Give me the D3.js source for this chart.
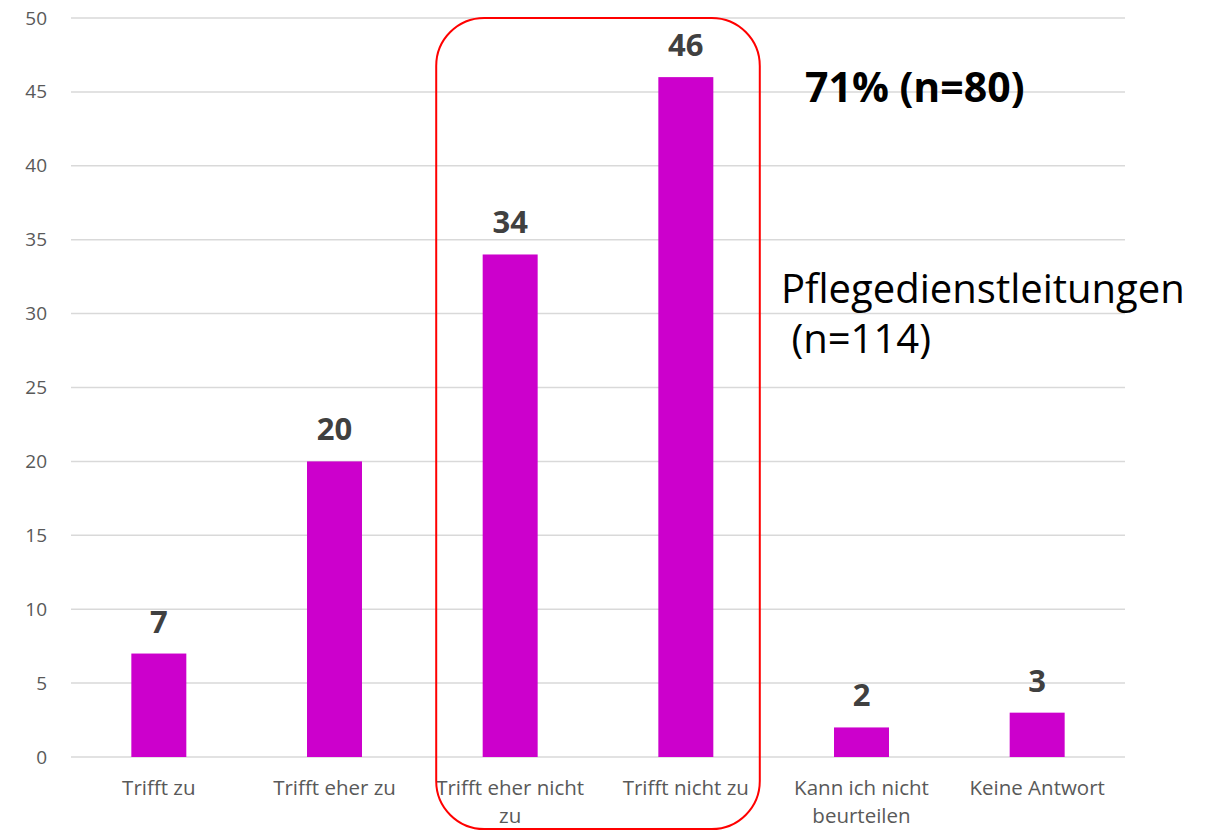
<!DOCTYPE html>
<html>
<head>
<meta charset="utf-8">
<script src="https://cdn.jsdelivr.net/npm/d3@7"></script>
<style>
  html, body { margin: 0; padding: 0; background: #fff; }
  svg { display: block; font-family: "Open Sans", sans-serif; }
</style>
</head>
<body>
<svg id="chart" width="1221" height="831"></svg>
<script>
// Antworten (Anzahl), Pflegedienstleitungen
const categories = [
  ["Trifft zu"],
  ["Trifft eher zu"],
  ["Trifft eher nicht", "zu"],
  ["Trifft nicht zu"],
  ["Kann ich nicht", "beurteilen"],
  ["Keine Antwort"]
];
const values = [7, 20, 34, 46, 2, 3];
const yTicks = [0, 5, 10, 15, 20, 25, 30, 35, 40, 45, 50];
const highlight = [2, 3]; // zusammengefasste Kategorien
const highlightLabel = "71% (n=80)";
const groupLabel = ["Pflegedienstleitungen", " (n=114)"];

const svg = d3.select("#chart");
const plotLeft = 71, plotRight = 1125, plotTop = 18, plotBottom = 757;

const x = d3.scaleBand()
  .domain(d3.range(categories.length))
  .range([plotLeft, plotRight])
  .paddingInner(0.687)
  .paddingOuter(0.3435);

const y = d3.scaleLinear().domain([0, 50]).range([plotBottom, plotTop]);

// Gitterlinien
svg.append("g")
  .selectAll("line")
  .data(yTicks)
  .join("line")
  .attr("x1", plotLeft).attr("x2", plotRight)
  .attr("y1", d => y(d)).attr("y2", d => y(d))
  .attr("stroke", "#d9d9d9")
  .attr("stroke-width", 1.5);

// y-Achse
const yAxis = svg.append("g")
  .attr("transform", `translate(${plotLeft},0)`)
  .call(d3.axisLeft(y).tickValues(yTicks).tickSize(0).tickPadding(24));
yAxis.select(".domain").remove();
yAxis.selectAll("text")
  .attr("fill", "#595959")
  .style("font-size", "19px")
  .style("font-family", "'Open Sans', sans-serif");

// Balken
svg.append("g")
  .selectAll("rect")
  .data(values)
  .join("rect")
  .attr("x", (d, i) => x(i))
  .attr("width", x.bandwidth())
  .attr("y", d => y(d))
  .attr("height", d => y(0) - y(d))
  .attr("fill", "#cc00cc");

// Werte über den Balken
svg.append("g")
  .selectAll("text")
  .data(values)
  .join("text")
  .attr("x", (d, i) => x(i) + x.bandwidth() / 2)
  .attr("y", d => y(d) - 21)
  .attr("text-anchor", "middle")
  .attr("fill", "#404040")
  .style("font-size", "31px")
  .style("font-weight", "bold")
  .text(d => d);

// Kategorienbeschriftung
const xl = svg.append("g")
  .selectAll("text")
  .data(categories)
  .join("text")
  .attr("x", (d, i) => x(i) + x.bandwidth() / 2)
  .attr("y", 795)
  .attr("text-anchor", "middle")
  .attr("fill", "#595959")
  .style("font-size", "20.5px");
xl.selectAll("tspan")
  .data(d => d)
  .join("tspan")
  .attr("x", function () { return d3.select(this.parentNode).attr("x"); })
  .attr("dy", (d, i) => i === 0 ? 0 : 28)
  .text(d => d);

// Hervorhebung der beiden Kategorien
const inset = (x.step() - x.bandwidth()) * 0.385;
const hx0 = x(highlight[0]) - inset;
const hx1 = x(highlight[1]) + x.bandwidth() + inset;
svg.append("rect")
  .attr("x", hx0)
  .attr("y", y(50))
  .attr("width", hx1 - hx0)
  .attr("height", 829 - y(50))
  .attr("rx", 48).attr("ry", 48)
  .attr("fill", "none")
  .attr("stroke", "#ff0000")
  .attr("stroke-width", 2);

svg.append("text")
  .attr("x", 805).attr("y", 102)
  .attr("fill", "#000")
  .style("font-size", "41px")
  .style("font-weight", "bold")
  .text(highlightLabel);

svg.append("text")
  .attr("x", 781).attr("y", 303)
  .attr("fill", "#000")
  .style("font-size", "40px")
  .style("white-space", "pre")
  .selectAll("tspan")
  .data(groupLabel)
  .join("tspan")
  .attr("x", 781)
  .attr("dy", (d, i) => i === 0 ? 0 : 50)
  .text(d => d);
</script>
</body>
</html>
